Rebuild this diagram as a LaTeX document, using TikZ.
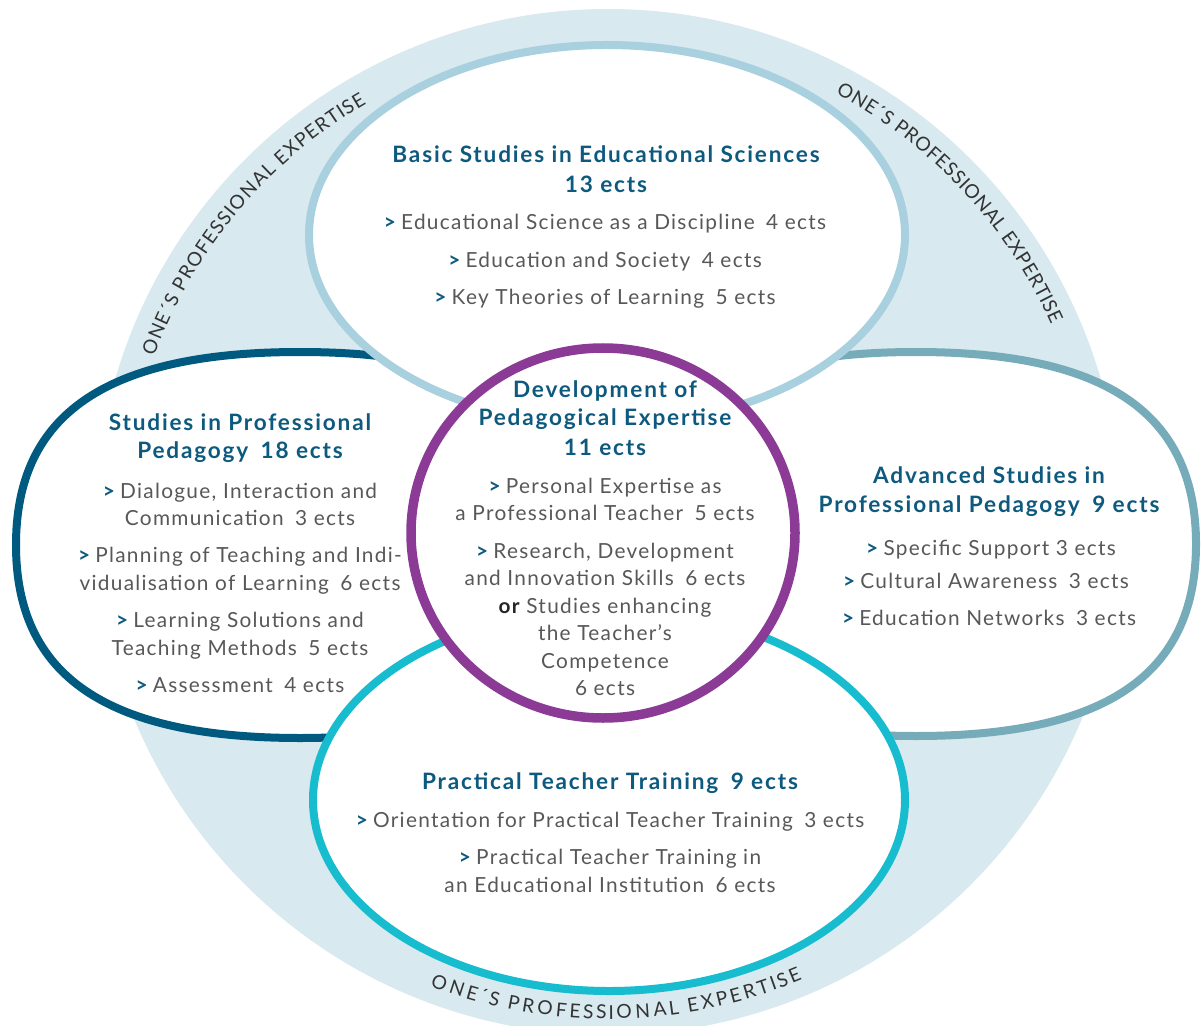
\documentclass[tikz,border=0pt]{standalone}
\usepackage{fontspec}
\setmainfont{Lato}
\newfontfamily\bodyfont{Lato}[LetterSpace=6.3]
\newfontfamily\titlefont{Lato}[LetterSpace=8]
\newfontfamily\curvefont{Lato}
\usetikzlibrary{decorations.text,calc}
\definecolor{bandblue}{HTML}{D8E9EF}
\definecolor{topring}{HTML}{A8D0DE}
\definecolor{leftring}{HTML}{005A80}
\definecolor{rightring}{HTML}{76ACBA}
\definecolor{botring}{HTML}{17BCCF}
\definecolor{purplering}{HTML}{8B3B96}
\definecolor{titleblue}{HTML}{0D5A7E}
\definecolor{bodygray}{HTML}{585858}
\definecolor{curvegray}{HTML}{333333}
\newcommand\myarr{{\color{titleblue}\bfseries >}\hspace{0.25em}}
\newcommand\twosp{\hspace{0.55em}}
\tikzset{
 ring/.style={fill=white, line width=4pt},
 ttl/.style={anchor=base, inner sep=0pt, text=titleblue, font=\titlefont\bfseries\fontsize{11.3}{12}\selectfont},
 bod/.style={anchor=base, inner sep=0pt, text=bodygray, font=\bodyfont\fontsize{10.4}{12}\selectfont},
 curvetext/.style={decorate, decoration={text effects along path, text={#1}, text effects/.cd, text along path, fit text to path, characters={anchor=base, inner sep=0pt, text=curvegray, font=\curvefont\fontsize{9.6}{11}\selectfont}}}
}
\begin{document}
\begin{tikzpicture}[x=0.5pt,y=-0.5pt]
\useasboundingbox (0,0) rectangle (1203,1026);
\clip (0,0) rectangle (1203,1026);
\coordinate (C) at (608,522);
\fill[bandblue] (C) circle [radius=513];
% curved labels
\path[curvetext={ONE´S PROFESSIONAL EXPERTISE}] ($(C)+(-160:483)$) arc[start angle=-160, end angle=-120, radius=483];
\path[curvetext={ONE´S PROFESSIONAL EXPERTISE}] ($(C)+(-62:485)$) arc[start angle=-62, end angle=-24, radius=485];
\path[curvetext={ONE´S PROFESSIONAL EXPERTISE}] ($(C)+(111:497)$) arc[start angle=111, end angle=67, radius=497];
% left and right rounded ovals
\draw[ring, draw=leftring] (16,545) .. controls (16,413.8) and (106.9,352) .. (300,352) .. controls (493.1,352) and (584,413.8) .. (584,545) .. controls (584,676.2) and (493.1,738) .. (300,738) .. controls (106.9,738) and (16,676.2) .. (16,545) -- cycle;
\draw[ring, draw=rightring] (636,544) .. controls (636,413.4) and (725.6,352) .. (916,352) .. controls (1106.4,352) and (1196,413.4) .. (1196,544) .. controls (1196,674.6) and (1106.4,736) .. (916,736) .. controls (725.6,736) and (636,674.6) .. (636,544) -- cycle;
% top and bottom ellipses
\draw[ring, draw=topring] (607,235) ellipse [x radius=298, y radius=190];
\draw[ring, draw=botring] (609,800) ellipse [x radius=296, y radius=191];
% centre
\draw[fill=white, draw=purplering, line width=4.75pt] (603,533) ellipse [x radius=192, y radius=185];
% top texts
\node[ttl] (b1) at (606,163) {Basic Studies in Educational Sciences};
\node[ttl] (b2) at (606,193) {13 ects};
\node[bod] (b3) at (605,230) {\myarr Educational Science as a Discipline\twosp 4 ects};
\node[bod] (b4) at (605,268) {\myarr Education and Society\twosp 4 ects};
\node[bod] (b5) at (605,305) {\myarr Key Theories of Learning\twosp 5 ects};
% left texts
\node[ttl] (l1) at (240,430) {Studies in Professional};
\node[ttl] (l2) at (240,458) {Pedagogy\twosp 18 ects};
\node[bod] (l3) at (240,498) {\myarr Dialogue, Interaction and};
\node[bod] (l4) at (240,525) {Communication\twosp 3 ects};
\node[bod] (l5) at (240,562) {\myarr Planning of Teaching and Indi-};
\node[bod] (l6) at (240,590) {vidualisation of Learning\twosp 6 ects};
\node[bod] (l7) at (240,627) {\myarr Learning Solutions and};
\node[bod] (l8) at (240,655) {Teaching Methods\twosp 5 ects};
\node[bod] (l9) at (240,692) {\myarr Assessment\twosp 4 ects};
% centre texts
\node[ttl] (c1) at (605,397) {Development of};
\node[ttl] (c2) at (605,425) {Pedagogical Expertise};
\node[ttl] (c3) at (605,455) {11 ects};
\node[bod] (c4) at (605,493) {\myarr Personal Expertise as};
\node[bod] (c5) at (605,520) {a Professional Teacher\twosp 5 ects};
\node[bod] (c6) at (605,558) {\myarr Research, Development};
\node[bod] (c7) at (605,585) {and Innovation Skills\twosp 6 ects};
\node[bod] (c8) at (605,613) {{\color{black!85}\bfseries or} Studies enhancing};
\node[bod] (c9) at (605,640) {the Teacher’s};
\node[bod] (c10) at (605,668) {Competence};
\node[bod] (c11) at (605,695) {6 ects};
% right texts
\node[ttl] (r1) at (989,483) {Advanced Studies in};
\node[ttl] (r2) at (989,512) {Professional Pedagogy\twosp 9 ects};
\node[bod] (r3) at (991,555) {\myarr Specific Support 3 ects};
\node[bod] (r4) at (986,588) {\myarr Cultural Awareness\twosp 3 ects};
\node[bod] (r5) at (989,625) {\myarr Education Networks\twosp 3 ects};
% bottom texts
\node[ttl] (p1) at (610,789) {Practical Teacher Training\twosp 9 ects};
\node[bod] (p2) at (610,827) {\myarr Orientation for Practical Teacher Training\twosp 3 ects};
\node[bod] (p3) at (610,864) {\myarr Practical Teacher Training in};
\node[bod] (p4) at (610,892) {an Educational Institution\twosp 6 ects};
\end{tikzpicture}
\end{document}
